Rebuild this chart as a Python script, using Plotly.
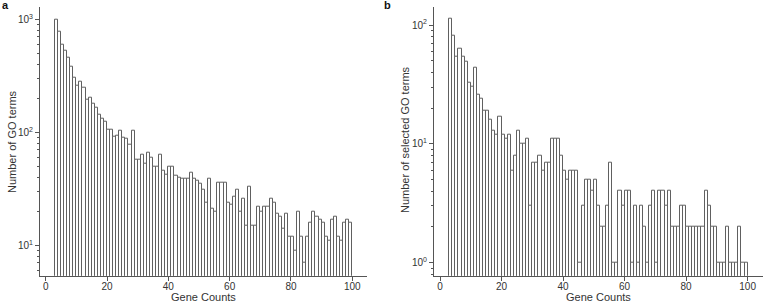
import plotly.graph_objects as go

# Gene counts (histogram bins [n, n+1))
gene_counts = list(range(3, 100))

# Panel a: number of GO terms per gene count
go_terms = [1000, 773, 601, 527, 457, 381, 307, 261, 283, 247, 193, 204, 178, 165, 144,
            132, 125, 106, 106, 91, 93, 103, 90, 88, 78, 103, 57, 57, 64, 53, 66, 60,
            50, 50, 64, 46, 42, 50, 50, 41, 40, 39, 39, 39, 44, 39, 37, 35, 31,
            24, 39, 21, 20, 36, 36, 36, 24, 23, 27, 31, 20, 26, 15, 33, 15, 15, 22,
            20, 22, 22, 26, 24, 19, 18, 14, 19, 12, 12, 9, 20, 12, 7, 12, 16, 20,
            18, 17, 16, 12, 11, 17, 18, 12, 11, 16, 17, 16]

# Panel b: number of selected GO terms per gene count
selected_terms = [113, 81, 54, 63, 54, 49, 33, 30, 44, 26, 24, 19, 19, 16, 13, 12, 17,
                  12, 11, 12, 6, 8, 13, 10, 10, 11, 3, 7, 7, 8, 6, 7, 7, 11, 11, 11,
                  8, 6, 5, 6, 6, 6, 1, 3, 5, 5, 4, 5, 3,
                  2, 2, 3, 7, 1, 1, 4, 3, 4, 4, 1, 3, 1, 3, 2, 1, 3, 4, 1, 4, 4, 3,
                  4, 2, 2, 2, 3, 3, 2, 2, 2, 2, 2, 2, 4, 3, 2, 2, 1, 1, 1, 2, 1, 1,
                  1, 2, 1, 1]

x_ticks = [0, 20, 40, 60, 80, 100]
ya_ticks = [10, 100, 1000]
ya_text = ["10<sup>1</sup>", "10<sup>2</sup>", "10<sup>3</sup>"]
yb_ticks = [1, 10, 100]
yb_text = ["10<sup>0</sup>", "10<sup>1</sup>", "10<sup>2</sup>"]

FONT = "Liberation Sans, Arial, sans-serif"
AXC = "#555555"
TXT = "#333333"
W, H = 763, 302

def px(x):
    return x / W

def py(y):
    return (H - y) / H

minor_a = [m * 10 ** k for k in (0, 1, 2, 3) for m in range(2, 10)]
minor_b = [m * 10 ** k for k in (-1, 0, 1, 2) for m in range(2, 10)]

fig = go.Figure()
bar_style = dict(color="white", line=dict(color="#606060", width=1))
fig.add_trace(go.Bar(x=gene_counts, y=go_terms, offset=0, width=1,
                     marker=bar_style, xaxis="x", yaxis="y"))
fig.add_trace(go.Bar(x=gene_counts, y=selected_terms, offset=0, width=1,
                     marker=bar_style, xaxis="x2", yaxis="y2"))

xcommon = dict(tickmode="array", tickvals=x_ticks, ticks="outside", ticklen=4,
               tickcolor=AXC, showline=True, linecolor=AXC, linewidth=1,
               showgrid=False, zeroline=False, ticklabelstandoff=-3,
               tickfont=dict(family=FONT, size=10, color=TXT))
ycommon = dict(type="log", tickmode="array", ticks="outside", ticklen=4,
               tickcolor=AXC, showline=True, linecolor=AXC, linewidth=1,
               showgrid=False, zeroline=False,
               tickfont=dict(family=FONT, size=10, color=TXT))

fig.update_layout(
    width=W, height=H,
    margin=dict(l=0, r=0, t=0, b=0),
    paper_bgcolor="white", plot_bgcolor="white",
    showlegend=False, bargap=0,
    font=dict(family=FONT, size=11, color=TXT),
    xaxis=dict(domain=[px(40), px(367)], range=[-1.86, 104.8], anchor="y", **xcommon),
    yaxis=dict(domain=[py(275.7), py(6.7)], range=[0.731, 3.113], anchor="x",
               tickvals=ya_ticks, ticktext=ya_text,
               minor=dict(tickmode="array", tickvals=minor_a, ticks="outside",
                          ticklen=2, tickcolor=AXC),
               **ycommon),
    xaxis2=dict(domain=[px(434), px(762.7)], range=[-1.95, 104.9], anchor="y2", **xcommon),
    yaxis2=dict(domain=[py(275.7), py(6.7)], range=[-0.1095, 2.154], anchor="x2",
                tickvals=yb_ticks, ticktext=yb_text,
                minor=dict(tickmode="array", tickvals=minor_b, ticks="outside",
                           ticklen=2, tickcolor=AXC),
                **ycommon),
)

annots = [
    dict(text="<b>a</b>", x=px(0), y=py(5), xanchor="left", yanchor="middle", font=dict(size=11, color="#111")),
    dict(text="<b>b</b>", x=px(382), y=py(5), xanchor="left", yanchor="middle", font=dict(size=11, color="#111")),
    dict(text="Gene Counts", x=px(203), y=py(297), xanchor="center", yanchor="middle", font=dict(size=11, color=TXT)),
    dict(text="Gene Counts", x=px(598), y=py(297), xanchor="center", yanchor="middle", font=dict(size=11, color=TXT)),
    dict(text="Number of GO terms", x=px(12), y=py(142), textangle=-90, xanchor="center", yanchor="middle", font=dict(size=11, color=TXT)),
    dict(text="Number of selected GO terms", x=px(405), y=py(140), textangle=-90, xanchor="center", yanchor="middle", font=dict(size=11, color=TXT)),
]
for a in annots:
    a.update(xref="paper", yref="paper", showarrow=False)
fig.update_layout(annotations=annots)

fig.write_html("out.html", config={"displayModeBar": False},
               post_script="document.body.style.margin='0';document.body.style.overflow='hidden';")
